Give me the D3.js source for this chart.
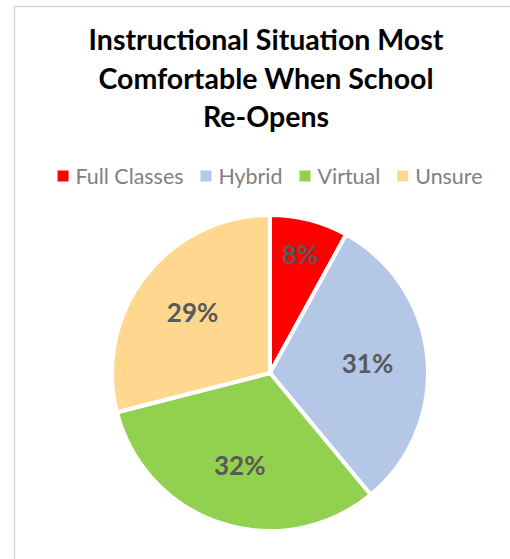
<!DOCTYPE html>
<html>
<head>
<meta charset="utf-8">
<script src="https://cdn.jsdelivr.net/npm/d3@7"></script>
<style>
  body { margin: 0; background: #fff; }
  svg { display: block; font-family: Lato, "Open Sans", sans-serif; }
</style>
</head>
<body>
<div id="chart"></div>
<script>
(function() {
  var categories = ["Full Classes", "Hybrid", "Virtual", "Unsure"];
  var values = [8, 31, 32, 29];
  var colors = ["#ff0000", "#b4c7e7", "#92d050", "#ffd78f"];
  var titleLines = ["Instructional Situation Most", "Comfortable When School", "Re-Opens"];

  var width = 510, height = 559;
  var cx = 270, cy = 373, radius = 158;

  var svg = d3.select("#chart").append("svg")
    .attr("width", width).attr("height", height);

  // chart area border (only top and left show in the crop)
  svg.append("path")
    .attr("d", "M14.5," + height + "V6.5H" + width)
    .style("fill", "none").style("stroke", "#d9d9d9").style("stroke-width", 1.5);

  var title = svg.append("g").attr("class", "title");
  title.selectAll("text").data(titleLines).enter().append("text")
    .attr("x", 266)
    .attr("y", function(d, i) { return 50 + i * 38.5; })
    .attr("text-anchor", "middle")
    .style("font-weight", 700)
    .style("font-size", "24px")
    .style("fill", "#000")
    .text(function(d) { return d; });
  var firstW = title.select("text").node().getComputedTextLength();
  var tsize = 24 * 355 / firstW;
  title.selectAll("text").style("font-size", tsize + "px");

  // legend
  var legend = svg.append("g").attr("class", "legend");
  var items = legend.selectAll("g").data(categories).enter().append("g");
  items.append("rect")
    .attr("width", 11).attr("height", 11)
    .attr("y", -5.5)
    .style("fill", function(d, i) { return colors[i]; });
  var ltext = items.append("text")
    .attr("x", 18)
    .attr("dy", "0.36em")
    .style("font-size", "20px")
    .style("fill", "#7f7f7f")
    .text(function(d) { return d; });
  var w0 = ltext.node().getComputedTextLength();
  ltext.style("font-size", (20 * 108 / w0) + "px");
  var xpos = 0, offsets = [];
  ltext.each(function() {
    offsets.push(xpos);
    xpos += 18 + this.getComputedTextLength() + 17;
  });
  var total = xpos - 17;
  items.attr("transform", function(d, i) {
    return "translate(" + (270 - total / 2 + offsets[i]) + ",176)";
  });

  // pie
  var pie = d3.pie().sort(null).value(function(d) { return d; });
  var arc = d3.arc().innerRadius(0).outerRadius(radius);
  var arcs = pie(values);

  var g = svg.append("g").attr("transform", "translate(" + cx + "," + cy + ")");
  g.selectAll("path.slice").data(arcs).enter().append("path")
    .attr("class", "slice")
    .attr("d", arc)
    .style("fill", function(d, i) { return colors[i]; })
    .style("stroke", "#fff")
    .style("stroke-width", 4)
    .style("stroke-linejoin", "round");

  g.selectAll("text.label").data(arcs).enter().append("text")
    .attr("class", "label")
    .attr("transform", function(d) {
      var r = d.data < 10 ? radius * 0.77 : radius * 0.62;
      var c = d3.arc().innerRadius(r).outerRadius(r).centroid(d);
      return "translate(" + c[0] + "," + c[1] + ")";
    })
    .attr("text-anchor", "middle")
    .attr("dy", "0.35em")
    .style("font-weight", 700)
    .style("font-size", "26px")
    .style("fill", "#595959")
    .text(function(d) { return d.data + "%"; });
})();
</script>
</body>
</html>
